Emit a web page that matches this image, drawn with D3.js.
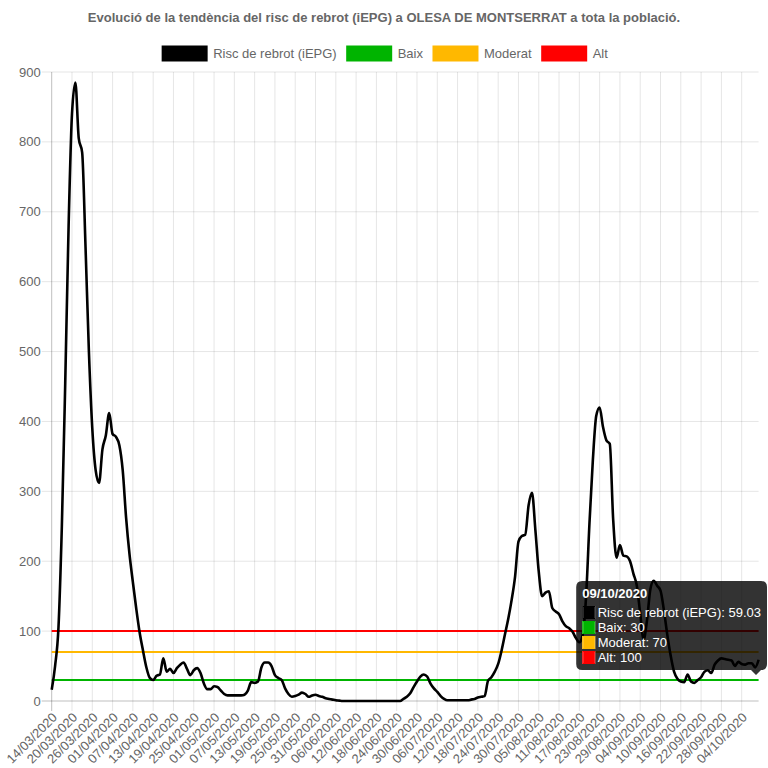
<!DOCTYPE html>
<html><head><meta charset="utf-8">
<script src="https://cdn.jsdelivr.net/npm/d3@7/dist/d3.min.js"></script>
<style>html,body{margin:0;padding:0;background:#fff;} svg{display:block;}</style>
</head><body><svg id="c" width="768" height="768"></svg>
<script>
const titleText = "Evolució de la tendència del risc de rebrot (iEPG) a OLESA DE MONTSERRAT a tota la població.";
const startDate = "14/03/2020";
const dayCount = 210;
const seriesNames = ["Risc de rebrot (iEPG)", "Baix", "Moderat", "Alt"];
const seriesColors = ["#000000", "#00b400", "#ffb800", "#ff0000"];
const thresholdValues = [30, 70, 100];
const yTicks = [0, 100, 200, 300, 400, 500, 600, 700, 800, 900];
const labelStep = 6;
const tooltipIndex = 209;
const riskValues = [
  16, 50, 105, 250, 455, 680, 840, 885, 805, 785,
  650, 500, 390, 330, 312, 360, 380, 412, 382, 378,
  366, 330, 262, 210, 170, 132, 98, 72, 48, 33,
  30, 36, 38, 61, 42, 46, 40, 47, 52, 55,
  46, 37, 44, 47, 40, 25, 17, 17, 21, 20,
  15, 10, 8, 8, 8, 8, 8, 9, 15, 27,
  26, 28, 48, 55, 55, 50, 37, 33, 30, 18,
  10, 6, 7, 9, 12, 10, 6, 8, 9, 7,
  6, 4, 3, 2, 1, 0.5, 0, 0, 0, 0,
  0, 0, 0, 0, 0, 0, 0, 0, 0, 0,
  0, 0, 0, 0, 3, 6, 11, 20, 28, 35,
  38, 35, 25, 18, 13, 7, 3, 1, 1, 1,
  1, 1, 1, 1, 2, 3, 5, 6, 7, 29,
  34, 42, 53, 72, 95, 118, 145, 178, 228, 236,
  238, 280, 298, 245, 185, 150, 155, 157, 133, 128,
  124, 114, 107, 104, 99, 90, 84, 95, 150, 255,
  345, 408, 420, 392, 373, 368, 260, 205, 223, 208,
  207, 200, 182, 165, 125, 88, 115, 160, 172, 165,
  158, 130, 95, 65, 42, 32, 28, 27, 38, 28,
  26, 30, 34, 42, 44, 40, 52, 58, 61, 60,
  59, 58, 50, 56, 53, 52, 54, 54, 48, 59.03
];

const parse = d3.timeParse("%d/%m/%Y");
const fmt = d3.timeFormat("%d/%m/%Y");
const categories = d3.range(dayCount).map(i => fmt(d3.timeDay.offset(parse(startDate), i)));

const FONT = "'Liberation Sans', Arial, Helvetica, sans-serif";
const TXT = "#666";
const svg = d3.select("#c");
const pLeft = 51.7, pRight = 758.6, pTop = 72, pBottom = 701;

const x = d3.scalePoint().domain(categories).range([pLeft, pRight]);
const y = d3.scaleLinear().domain([0, 900]).range([pBottom, pTop]);

// title
svg.append("text").attr("x", 384).attr("y", 21.5).attr("text-anchor", "middle")
  .attr("font-family", FONT).attr("font-size", 13).attr("font-weight", "bold").attr("fill", TXT)
  .text(titleText);

// legend
const lg = svg.append("g");
const items = seriesNames.map((n, k) => {
  const g = lg.append("g");
  g.append("rect").attr("x", 0).attr("y", 47).attr("width", 43).attr("height", 13)
    .attr("fill", seriesColors[k]).attr("stroke", seriesColors[k]).attr("stroke-width", 3);
  const t = g.append("text").attr("x", 50).attr("y", 58).attr("font-family", FONT)
    .attr("font-size", 13).attr("fill", TXT).text(n);
  return {g, w: 50 + t.node().getComputedTextLength()};
});
const totalW = d3.sum(items, d => d.w) + 11 * (items.length - 1);
let cx = 384 - totalW / 2 + 1.5;
items.forEach(it => { it.g.attr("transform", `translate(${cx},0)`); cx += it.w + 11; });

// grid
const grid = svg.append("g");
yTicks.forEach(v => {
  grid.append("line").attr("x1", pLeft - 10).attr("x2", pRight).attr("y1", y(v)).attr("y2", y(v))
    .attr("stroke", v === 0 ? "rgba(0,0,0,0.25)" : "rgba(0,0,0,0.1)").attr("stroke-width", 1);
  svg.append("text").attr("x", pLeft - 11).attr("y", y(v)).attr("dy", "0.35em").attr("text-anchor", "end")
    .attr("font-family", FONT).attr("font-size", 13).attr("fill", TXT).text(v);
});
const shown = categories.filter((c, i) => i % labelStep === 0);
shown.forEach((c, k) => {
  const xx = x(c);
  grid.append("line").attr("x1", xx).attr("x2", xx).attr("y1", pTop).attr("y2", pBottom + 10)
    .attr("stroke", k === 0 ? "rgba(0,0,0,0.25)" : "rgba(0,0,0,0.1)").attr("stroke-width", 1);
  svg.append("text").attr("transform", `translate(${xx + 3},${pBottom + 14}) rotate(-45)`)
    .attr("text-anchor", "end").attr("dy", "0.35em")
    .attr("font-family", FONT).attr("font-size", 13).attr("fill", TXT).text(c);
});

// threshold lines (drawn under the main line)
const line = d3.line().x((d, i) => x(categories[i])).y(d => y(d)).curve(d3.curveMonotoneX);
for (let k = thresholdValues.length - 1; k >= 0; k--) {
  svg.append("path").datum(categories.map(() => thresholdValues[k])).attr("d", line)
    .attr("fill", "none").attr("stroke", seriesColors[k + 1]).attr("stroke-width", 2);
}
svg.append("path").datum(riskValues).attr("d", line).attr("fill", "none")
  .attr("stroke", "#000").attr("stroke-width", 2.6).attr("stroke-linejoin", "round");

// tooltip
const tip = svg.append("g");
const tipBg = tip.append("path").attr("fill", "rgba(0,0,0,0.8)");
const tipTitle = tip.append("text").attr("font-family", FONT).attr("font-size", 13).attr("font-weight", "bold")
  .attr("fill", "#fff").text(categories[tooltipIndex]);
const tipVals = [riskValues[tooltipIndex]].concat(thresholdValues);
const rows = seriesNames.map((n, k) => tip.append("text").attr("font-family", FONT).attr("font-size", 13)
  .attr("fill", "#fff").text(`${n}: ${tipVals[k]}`));
const maxW = Math.max(tipTitle.node().getComputedTextLength(), d3.max(rows, r => 15.5 + r.node().getComputedTextLength()));
const tw = maxW + 12, th = 6 + 13 + 6 + 4 * 13 + 3 * 2 + 6;
const tx = 767 - tw, ty = 581;
tipTitle.attr("x", tx + 6).attr("y", ty + 6 + 10.5);
rows.forEach((r, k) => {
  const ry = ty + 6 + 13 + 6 + k * 15;
  tip.append("rect").attr("x", tx + 6).attr("y", ry).attr("width", 13).attr("height", 13).attr("fill", "#fff");
  tip.append("rect").attr("x", tx + 6.5).attr("y", ry + 0.5).attr("width", 12).attr("height", 12)
    .attr("fill", "none").attr("stroke", seriesColors[k]).attr("stroke-width", 1);
  tip.append("rect").attr("x", tx + 7).attr("y", ry + 1).attr("width", 11).attr("height", 11).attr("fill", seriesColors[k]);
  r.attr("x", tx + 6 + 15.5).attr("y", ry + 10.5);
});
const rr = 6, bx2 = tx + tw, by2 = ty + th, cxp = bx2 - rr - 5;
tipBg.attr("d", `M${tx + rr},${ty} H${bx2 - rr} Q${bx2},${ty} ${bx2},${ty + rr} V${by2 - rr} Q${bx2},${by2} ${bx2 - rr},${by2}
  H${cxp + 5} L${cxp},${by2 + 5} L${cxp - 5},${by2} H${tx + rr} Q${tx},${by2} ${tx},${by2 - rr} V${ty + rr} Q${tx},${ty} ${tx + rr},${ty} Z`);
</script></body></html>
